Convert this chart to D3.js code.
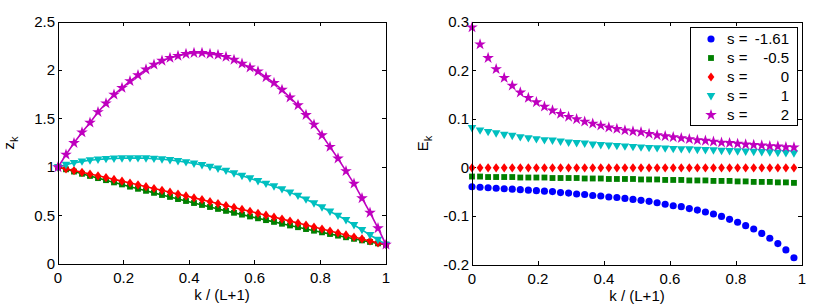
<!DOCTYPE html>
<html>
<head>
<meta charset="utf-8">
<script src="https://cdn.jsdelivr.net/npm/d3@7"></script>
<style>
  body { margin: 0; background: #fff; }
  svg text { font-family: "Liberation Sans", Arial, sans-serif; fill: #000; }
</style>
</head>
<body>
<svg id="chart" width="822" height="304"></svg>
<script>
// series labels and colours
const sLabels = ["-1.61", "-0.5", "0", "1", "2"];
const colors = ["#0000ff", "#008000", "#ff0000", "#00bfbf", "#bf00bf"];

// left panel: z_k, k = 0..41, x = k/(L+1), L = 40
const zGreen = [1.00, 0.978, 0.955, 0.932, 0.910, 0.887, 0.866, 0.843, 0.822, 0.799, 0.777,
  0.756, 0.735, 0.713, 0.693, 0.671, 0.651, 0.630, 0.610, 0.589, 0.569, 0.549, 0.529,
  0.510, 0.491, 0.472, 0.453, 0.435, 0.416, 0.398, 0.380, 0.361, 0.344, 0.327, 0.310,
  0.293, 0.276, 0.260, 0.244, 0.228, 0.213, 0.200];
const zRed = [1.00, 0.983, 0.965, 0.947, 0.929, 0.911, 0.893, 0.874, 0.856, 0.837, 0.818,
  0.799, 0.780, 0.761, 0.742, 0.722, 0.703, 0.683, 0.664, 0.644, 0.624, 0.604, 0.584,
  0.564, 0.544, 0.524, 0.504, 0.484, 0.464, 0.443, 0.423, 0.402, 0.382, 0.361, 0.341,
  0.320, 0.300, 0.279, 0.259, 0.238, 0.218, 0.200];
const zCyan = [1.00, 1.025, 1.045, 1.06, 1.072, 1.08, 1.086, 1.09, 1.093, 1.094, 1.094,
  1.092, 1.088, 1.082, 1.074, 1.064, 1.052, 1.038, 1.022, 1.005, 0.986, 0.964, 0.937,
  0.912, 0.885, 0.858, 0.83, 0.803, 0.773, 0.74, 0.706, 0.668, 0.627, 0.586, 0.542,
  0.50, 0.455, 0.403, 0.352, 0.30, 0.25, 0.20];
const zMagenta = [1.00, 1.13, 1.25, 1.36, 1.46, 1.57, 1.66, 1.75, 1.82, 1.89, 1.95,
  2.01, 2.06, 2.10, 2.13, 2.15, 2.17, 2.18, 2.18, 2.17, 2.16, 2.14, 2.11, 2.07, 2.03,
  1.99, 1.93, 1.87, 1.80, 1.72, 1.64, 1.54, 1.44, 1.33, 1.21, 1.09, 0.96, 0.83, 0.68,
  0.53, 0.37, 0.20];

// right panel: E_k, k = 0..40
const eBlue = [-0.039, -0.040, -0.041, -0.042, -0.043, -0.044, -0.045, -0.046, -0.047,
  -0.048, -0.049, -0.051, -0.052, -0.054, -0.055, -0.057, -0.058, -0.060, -0.061, -0.063,
  -0.065, -0.067, -0.069, -0.072, -0.075, -0.078, -0.080, -0.084, -0.087, -0.091, -0.095,
  -0.100, -0.106, -0.112, -0.119, -0.126, -0.135, -0.145, -0.156, -0.169, -0.185];
const eGreen = [-0.018, -0.018, -0.019, -0.019, -0.019, -0.019, -0.020, -0.020, -0.020,
  -0.020, -0.021, -0.021, -0.021, -0.021, -0.022, -0.022, -0.022, -0.023, -0.023, -0.023,
  -0.023, -0.024, -0.024, -0.024, -0.025, -0.025, -0.025, -0.026, -0.026, -0.026, -0.027,
  -0.027, -0.027, -0.028, -0.028, -0.029, -0.029, -0.029, -0.030, -0.030, -0.031];
const eRed = [0, 0, 0, 0, 0, 0, 0, 0, 0, 0, 0, 0, 0, 0, 0, 0, 0, 0, 0, 0, 0, 0, 0, 0, 0,
  0, 0, 0, 0, 0, 0, 0, 0, 0, 0, 0, 0, 0, 0, 0, 0];
const eCyan = [0.082, 0.077, 0.074, 0.071, 0.068, 0.066, 0.063, 0.061, 0.059, 0.057,
  0.056, 0.054, 0.052, 0.051, 0.050, 0.048, 0.047, 0.046, 0.045, 0.044, 0.043, 0.042,
  0.041, 0.0405, 0.040, 0.039, 0.0385, 0.038, 0.037, 0.0365, 0.036, 0.035, 0.0345, 0.034,
  0.0335, 0.033, 0.0325, 0.032, 0.031, 0.0305, 0.030];
const eMagenta = [0.289, 0.254, 0.226, 0.203, 0.185, 0.169, 0.155, 0.144, 0.135, 0.126,
  0.118, 0.111, 0.105, 0.100, 0.095, 0.091, 0.087, 0.083, 0.080, 0.077, 0.075, 0.0735,
  0.070, 0.067, 0.065, 0.063, 0.061, 0.059, 0.057, 0.0557, 0.054, 0.052, 0.051, 0.0495,
  0.048, 0.047, 0.046, 0.0447, 0.044, 0.0426, 0.042];

const L = 40;
const xTicks = [0, 0.2, 0.4, 0.6, 0.8, 1];
const zTicks = [0, 0.5, 1, 1.5, 2, 2.5];
const eTicks = [-0.2, -0.1, 0, 0.1, 0.2, 0.3];

const svg = d3.select("#chart");
const FS = 15;

// marker shapes: circle, square, diamond, triangle-down, star
const diamond = { draw(ctx, size) { const w = 3.4, h = 4.6;
  ctx.moveTo(0, -h); ctx.lineTo(w, 0); ctx.lineTo(0, h); ctx.lineTo(-w, 0); ctx.closePath(); } };
const triDown = { draw(ctx, size) { const w = 4.3, h = 3.7;
  ctx.moveTo(-w, -h * 0.8); ctx.lineTo(w, -h * 0.8); ctx.lineTo(0, h * 1.2); ctx.closePath(); } };
const symbols = [
  d3.symbol(d3.symbolCircle, 40),
  d3.symbol(d3.symbolSquare, 34),
  d3.symbol(diamond),
  d3.symbol(triDown),
  d3.symbol(d3.symbolStar, 42),
];

function drawPanel(opt) {
  const x = d3.scaleLinear().domain([0, 1]).range([opt.left, opt.right]);
  const y = d3.scaleLinear().domain(opt.yDomain).range([opt.bottom, opt.top]);
  const g = svg.append("g");

  // ticks (inside, all four sides)
  const tk = g.append("g").attr("stroke", "#000").attr("stroke-width", 1)
    .attr("shape-rendering", "crispEdges");
  xTicks.forEach(v => {
    tk.append("line").attr("x1", x(v)).attr("x2", x(v)).attr("y1", opt.bottom).attr("y2", opt.bottom - 4);
    tk.append("line").attr("x1", x(v)).attr("x2", x(v)).attr("y1", opt.top).attr("y2", opt.top + 4);
  });
  opt.yTicks.forEach(v => {
    tk.append("line").attr("x1", opt.left).attr("x2", opt.left + 4).attr("y1", y(v)).attr("y2", y(v));
    tk.append("line").attr("x1", opt.right).attr("x2", opt.right - 4).attr("y1", y(v)).attr("y2", y(v));
  });

  // tick labels
  g.selectAll(".xl").data(xTicks).join("text")
    .attr("x", d => x(d)).attr("y", opt.bottom + 19)
    .attr("text-anchor", "middle").attr("font-size", FS)
    .text(d => String(d));
  g.selectAll(".yl").data(opt.yTicks).join("text")
    .attr("x", opt.left - 3).attr("y", d => y(d) + 5)
    .attr("text-anchor", "end").attr("font-size", FS)
    .text(d => String(d));

  // axis labels
  g.append("text").attr("x", (opt.left + opt.right) / 2).attr("y", opt.bottom + 36)
    .attr("text-anchor", "middle").attr("font-size", FS).text("k / (L+1)");
  const yl = g.append("text")
    .attr("transform", `translate(${opt.ylabX},${(opt.top + opt.bottom) / 2}) rotate(-90)`)
    .attr("text-anchor", "middle").attr("font-size", FS);
  yl.append("tspan").text(opt.yName);
  yl.append("tspan").attr("font-size", 11).attr("dy", 4).text("k");

  // series
  opt.series.forEach(s => {
    const pts = s.values.map((v, k) => [x(k / (L + 1)), y(v)]);
    if (opt.lines) {
      g.append("path").attr("d", d3.line()(pts))
        .attr("fill", "none").attr("stroke", colors[s.i]).attr("stroke-width", 1.6);
    }
    g.selectAll(null).data(pts).join("path")
      .attr("transform", d => `translate(${d[0]},${d[1]})`)
      .attr("d", symbols[s.i]())
      .attr("fill", colors[s.i]);
  });

  // frame
  g.append("rect").attr("x", opt.left).attr("y", opt.top)
    .attr("width", opt.right - opt.left).attr("height", opt.bottom - opt.top)
    .attr("fill", "none").attr("stroke", "#000").attr("stroke-width", 1)
    .attr("shape-rendering", "crispEdges");
  return g;
}

drawPanel({
  left: 58, right: 386, top: 22, bottom: 264,
  yDomain: [0, 2.5], yTicks: zTicks, yName: "z", ylabX: 14, lines: true,
  series: [
    { i: 1, values: zGreen },
    { i: 2, values: zRed },
    { i: 3, values: zCyan },
    { i: 4, values: zMagenta },
  ],
});

drawPanel({
  left: 472, right: 802, top: 22, bottom: 265,
  yDomain: [-0.2, 0.3], yTicks: eTicks, yName: "E", ylabX: 428, lines: false,
  series: [
    { i: 0, values: eBlue },
    { i: 1, values: eGreen },
    { i: 2, values: eRed },
    { i: 3, values: eCyan },
    { i: 4, values: eMagenta },
  ],
});

// legend
const lg = svg.append("g");
lg.append("rect").attr("x", 690).attr("y", 27).attr("width", 107).attr("height", 98)
  .attr("fill", "#fff").attr("stroke", "#000").attr("stroke-width", 1)
  .attr("shape-rendering", "crispEdges");
sLabels.forEach((lab, i) => {
  const yy = 39 + i * 19;
  lg.append("path").attr("transform", `translate(711,${yy})`)
    .attr("d", symbols[i]()).attr("fill", colors[i]);
  lg.append("text").attr("x", 727).attr("y", yy + 5).attr("font-size", FS).text("s =");
  lg.append("text").attr("x", 789).attr("y", yy + 5).attr("font-size", FS)
    .attr("text-anchor", "end").text(lab);
});
</script>
</body>
</html>
